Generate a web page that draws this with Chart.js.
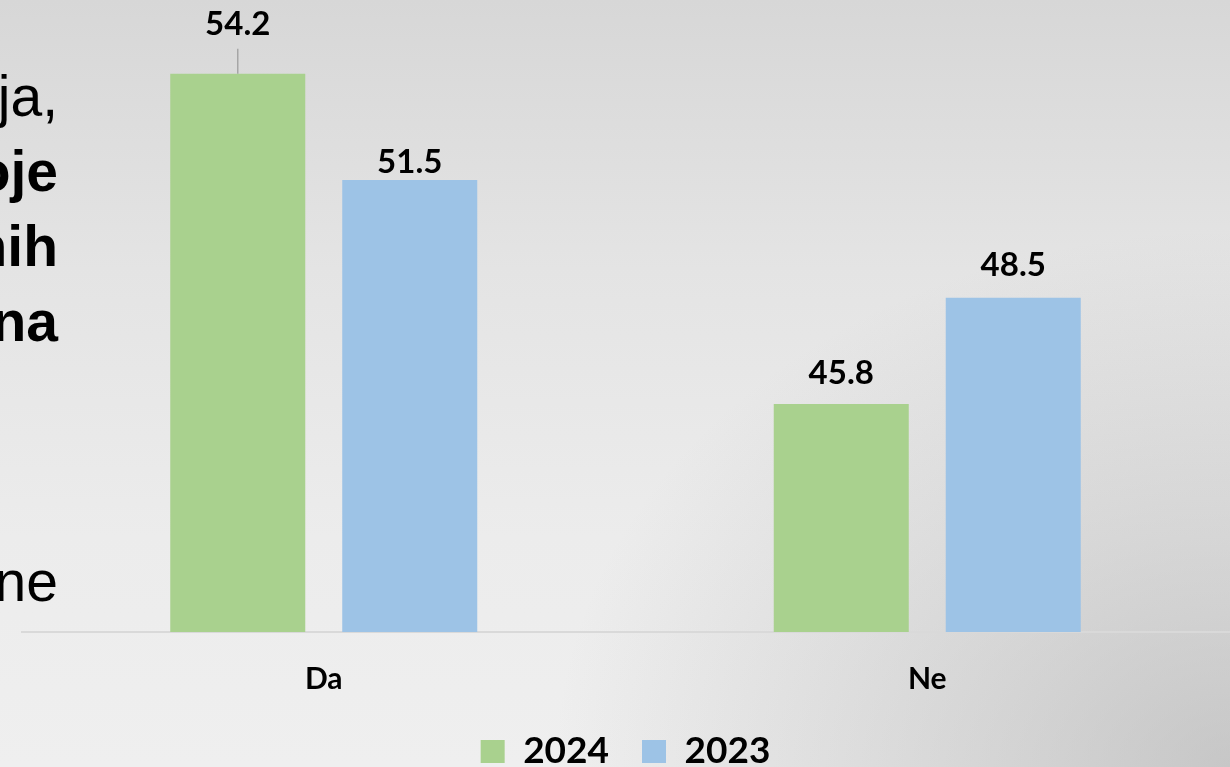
<!DOCTYPE html>
<html>
<head>
<meta charset="utf-8">
<script src="https://cdn.jsdelivr.net/npm/chart.js@4"></script>
<style>
  html, body { margin: 0; padding: 0; }
  body {
    width: 1230px; height: 767px; overflow: hidden; position: relative;
    background:
      radial-gradient(ellipse 55% 70% at 100% 100%, rgba(150,150,150,0.45) 0%, rgba(150,150,150,0) 100%),
      linear-gradient(to bottom, #d7d7d7 0%, #e4e4e4 35%, #ececec 70%, #efefef 100%);
  }
  .side { position: absolute; right: 1172px; font-family: "Liberation Sans", Arial, sans-serif;
          font-size: 57px; line-height: 57px; color: #000; white-space: nowrap; }
  .b { font-weight: bold; }
  #wrap { position: absolute; left: 0; top: 0; width: 1230px; height: 780px; }
</style>
</head>
<body>
<div class="side" style="top:68px">ja,</div>
<div class="side b" style="top:143px">oje</div>
<div class="side b" style="top:218px">nih</div>
<div class="side b" style="top:293px">na</div>
<div class="side" style="top:553px">ne</div>
<div id="wrap"><canvas id="chart"></canvas></div>
<script>
const categories = ['Da', 'Ne'];
const values2024 = [54.2, 45.8];
const values2023 = [51.5, 48.5];
const seriesNames = ['2024', '2023'];

// gap between bar top and label baseline, per dataset / category
const labelGap = [[39, 20], [7, 22]];

const barLabels = {
  id: 'barLabels',
  afterDatasetsDraw(chart) {
    const ctx = chart.ctx;
    ctx.save();
    ctx.font = 'bold 33px Lato';
    ctx.fillStyle = '#000';
    ctx.textAlign = 'center';
    ctx.textBaseline = 'alphabetic';
    chart.data.datasets.forEach((ds, i) => {
      chart.getDatasetMeta(i).data.forEach((bar, j) => {
        const gap = labelGap[i][j];
        if (gap > 30) {
          // leader line for the moved label
          ctx.strokeStyle = '#a6a6a6';
          ctx.lineWidth = 1.5;
          ctx.beginPath();
          ctx.moveTo(bar.x, bar.y - 25);
          ctx.lineTo(bar.x, bar.y);
          ctx.stroke();
        }
        ctx.fillText(ds.data[j].toFixed(1), bar.x, bar.y - gap);
      });
    });
    ctx.restore();
  }
};

new Chart(document.getElementById('chart'), {
  type: 'bar',
  data: {
    labels: categories,
    datasets: [
      { label: seriesNames[0], data: values2024, backgroundColor: '#a9d18e' },
      { label: seriesNames[1], data: values2023, backgroundColor: '#9dc3e6' }
    ]
  },
  options: {
    responsive: true,
    maintainAspectRatio: false,
    animation: false,
    categoryPercentage: 0.57,
    barPercentage: 0.785,
    layout: { padding: { left: 22, right: 1, top: 3, bottom: 0 } },
    scales: {
      x: {
        grid: { display: false, drawTicks: false },
        border: { color: '#d9d9d9', width: 2 },
        ticks: { color: '#000', padding: 26, font: { family: 'Lato', size: 30, weight: 'bold', lineHeight: 1.4 } },
        afterFit: (scale) => { scale.height = 68; }
      },
      y: { display: false, min: 40, max: 56 }
    },
    plugins: {
      tooltip: { enabled: false },
      legend: {
        position: 'bottom',
        labels: {
          color: '#000',
          boxWidth: 24,
          boxHeight: 23,
          padding: 33,
          font: { family: 'Lato', size: 37, weight: 'bold' }
        }
      }
    }
  },
  plugins: [barLabels]
});
</script>
</body>
</html>
